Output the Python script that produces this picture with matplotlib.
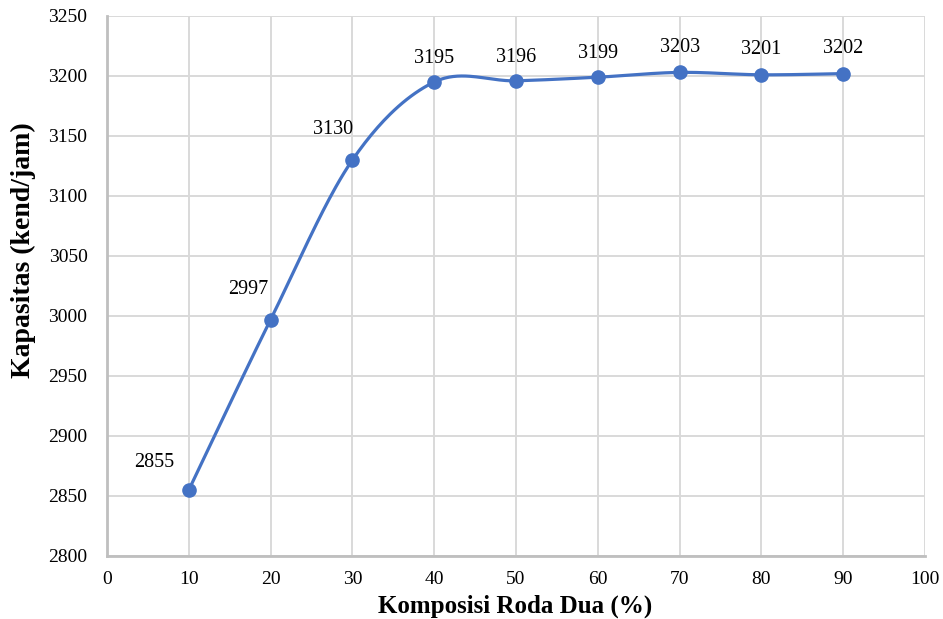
import numpy as np
import matplotlib
matplotlib.use("Agg")
import matplotlib.pyplot as plt

plt.rcParams['font.family'] = ['Liberation Serif', 'DejaVu Serif']

komposisi = [10, 20, 30, 40, 50, 60, 70, 80, 90]
kapasitas = [2855, 2997, 3130, 3195, 3196, 3199, 3203, 3201, 3202]
label_offsets = [(-25, 20), (-16, 22), (-14, 22), (0, 17), (0, 17), (0, 17), (0, 18), (0, 18), (0, 18)]

x_ticks = list(range(0, 101, 10))
y_ticks = list(range(2800, 3251, 50))

COLOR = '#4472C4'

def smooth_curve(xs, ys, n=40):
    xs = np.asarray(xs, float); ys = np.asarray(ys, float)
    px = np.concatenate([[xs[0]], xs, [xs[-1]]])
    py = np.concatenate([[ys[0]], ys, [ys[-1]]])
    outx, outy = [], []
    t = np.linspace(0, 1, n)
    for i in range(1, len(px) - 2):
        p0 = np.array([px[i], py[i]]); p3 = np.array([px[i+1], py[i+1]])
        c1 = p0 + (np.array([px[i+1], py[i+1]]) - np.array([px[i-1], py[i-1]])) / 6
        c2 = p3 - (np.array([px[i+2], py[i+2]]) - np.array([px[i], py[i]])) / 6
        b = ((1-t)**3)[:, None]*p0 + (3*(1-t)**2*t)[:, None]*c1 + (3*(1-t)*t**2)[:, None]*c2 + (t**3)[:, None]*p3
        outx.extend(b[:, 0]); outy.extend(b[:, 1])
    return outx, outy

W, H = 943, 619
fig = plt.figure(figsize=(W/100, H/100), dpi=100)
ax = fig.add_axes([107/W, 63/H, 818/W, 540/H])

sx, sy = smooth_curve(komposisi, kapasitas)
ax.plot(sx, sy, color=COLOR, lw=2.3, zorder=3, solid_capstyle='round')
ax.plot(komposisi, kapasitas, 'o', color=COLOR, ms=9.5, zorder=4)

for x, y, (dx, dy) in zip(komposisi, kapasitas, label_offsets):
    ax.annotate(str(y), (x, y), xytext=(dx, dy), textcoords='offset points',
                ha='center', va='center', fontsize=14.5, color='black')

ax.set_xlim(0, 100)
ax.set_ylim(2800, 3250)
ax.set_xticks(x_ticks)
ax.set_yticks(y_ticks)
ax.tick_params(axis='y', length=0, labelsize=14, pad=14)
ax.tick_params(axis='x', length=0, labelsize=14, pad=11)
ax.grid(True, color='#D9D9D9', lw=1.4)
ax.set_axisbelow(True)
for s in ['top', 'right']:
    ax.spines[s].set_visible(False)
for s in ['left', 'bottom']:
    ax.spines[s].set_color('#BFBFBF')
    ax.spines[s].set_linewidth(2)

fig.text(515/W, 1 - 606/H, 'Komposisi Roda Dua (%)', fontsize=18, fontweight='bold',
         ha='center', va='center')
fig.text(23/W, 1 - 250/H, 'Kapasitas (kend/jam)', fontsize=20, fontweight='bold',
         ha='center', va='center', rotation=90)

fig.savefig('out.png', dpi=100)
